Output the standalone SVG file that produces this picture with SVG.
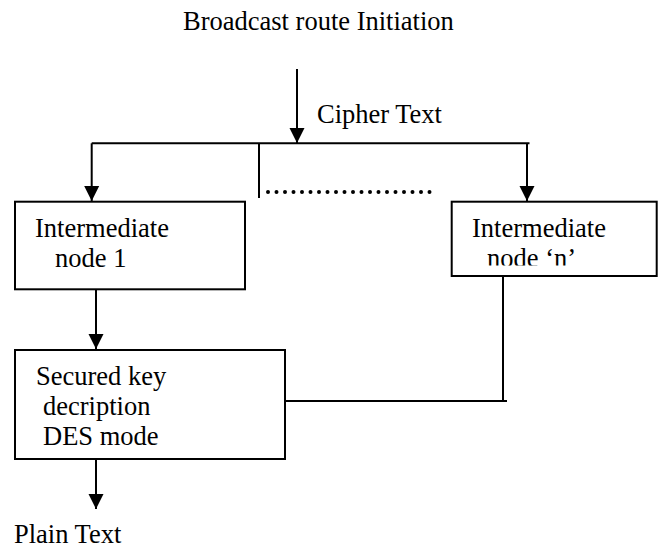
<svg xmlns="http://www.w3.org/2000/svg" width="660" height="548" viewBox="0 0 660 548">
  <style>
    text { font-family: "Liberation Serif", "Times New Roman", serif; font-size: 26.5px; fill: #000; }
    .box { fill: #fff; stroke: #000; stroke-width: 2; }
    .wire { fill: none; stroke: #000; stroke-width: 2; }
    .dots { fill: none; stroke: #000; stroke-width: 4; stroke-dasharray: 0 8.5; stroke-linecap: round; }
  </style>
  <defs>
    <!-- filled triangular arrowhead, tip at the line end -->
    <marker id="arrow" markerUnits="userSpaceOnUse" markerWidth="16" markerHeight="16" viewBox="0 0 16 16" refX="15" refY="8" orient="auto">
      <path d="M0,0.5 L15,8 L0,15.5 Z" fill="#000"/>
    </marker>
    <clipPath id="clip-node-n">
      <rect x="452" y="202" width="205" height="63.5"/>
    </clipPath>
  </defs>
  <rect width="660" height="548" fill="#fff"/>

  <!-- labels outside the boxes -->
  <text x="183" y="30">Broadcast route Initiation</text>
  <text x="317" y="123">Cipher Text</text>
  <text x="14" y="543">Plain Text</text>

  <!-- connectors -->
  <g id="connectors">
    <line class="wire" x1="297" y1="69" x2="297" y2="143" marker-end="url(#arrow)"/>
    <line class="wire" x1="91.7" y1="143.3" x2="529.5" y2="143.3"/>
    <line class="wire" x1="91.7" y1="143.3" x2="91.7" y2="201" marker-end="url(#arrow)"/>
    <line class="wire" x1="259" y1="143.3" x2="259" y2="198"/>
    <line class="wire" x1="527" y1="143.3" x2="527" y2="201" marker-end="url(#arrow)"/>
    <line class="dots" x1="268" y1="192" x2="431" y2="192"/>
    <line class="wire" x1="96" y1="290" x2="96" y2="349" marker-end="url(#arrow)"/>
    <polyline class="wire" points="503,276 503,401 285,401"/>
    <line class="wire" x1="503" y1="401" x2="507" y2="401"/>
    <line class="wire" x1="96" y1="459" x2="96" y2="509" marker-end="url(#arrow)"/>
  </g>

  <!-- nodes -->
  <g id="node-1">
    <rect class="box" x="15" y="201.7" width="230" height="87.6"/>
    <text x="35" y="236.7">Intermediate</text>
    <text x="55" y="266.7">node 1</text>
  </g>
  <g id="node-n">
    <rect class="box" x="451.7" y="201.7" width="205" height="74.3"/>
    <text x="472" y="236.7">Intermediate</text>
    <text x="487" y="266.7" clip-path="url(#clip-node-n)">node ‘n’</text>
  </g>
  <g id="decryption">
    <rect class="box" x="15" y="350" width="270" height="109"/>
    <text x="36" y="385">Secured key</text>
    <text x="43" y="415">decription</text>
    <text x="43" y="445">DES mode</text>
  </g>
</svg>
